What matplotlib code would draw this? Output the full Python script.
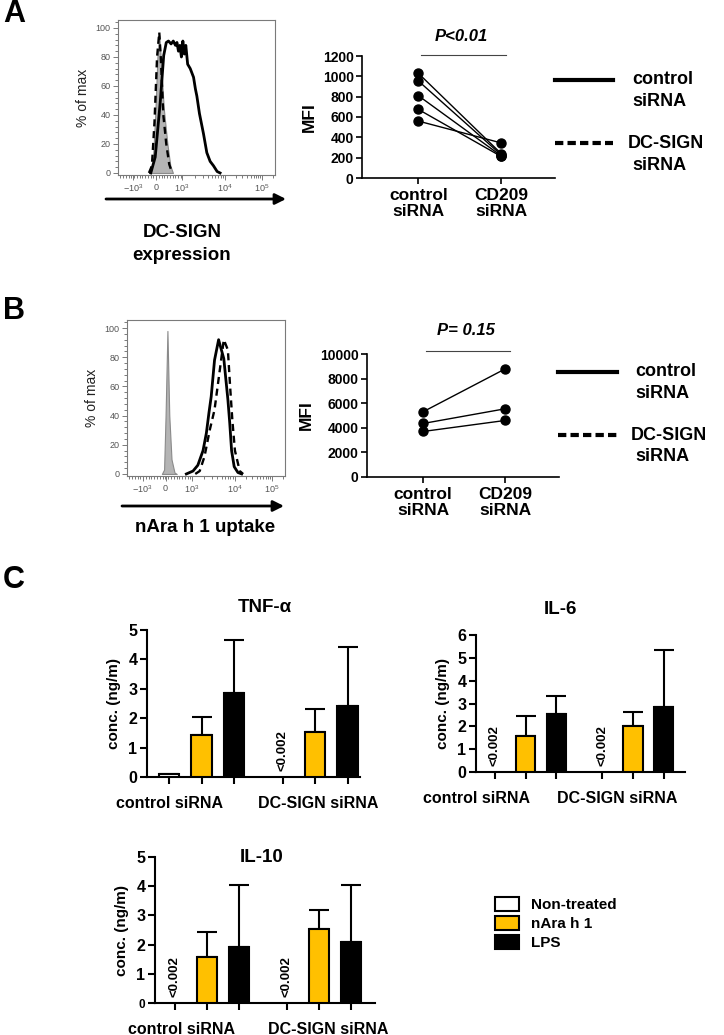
import numpy as np
import matplotlib
matplotlib.use("Agg")
import matplotlib.pyplot as plt
from matplotlib.patches import Patch
from matplotlib.ticker import AutoMinorLocator
from matplotlib.transforms import ScaledTranslation

plt.rcParams['font.family'] = ['Liberation Sans', 'DejaVu Sans']
plt.rcParams['mathtext.default'] = 'regular'

W, H = 724, 1035

# ---------------- data ----------------
# flow histograms: x in display units of the biexponential axis
hist_tick_pos = [-0.62, 0.0, 0.70, 1.86, 2.86]
hist_tick_lbl = [r'$-10^3$', '0', r'$10^3$', r'$10^4$', r'$10^5$']

# A - DC-SIGN expression
a_iso_x = [-0.18, -0.1, -0.03, 0.03, 0.08, 0.13, 0.2, 0.3, 0.38, 0.45]
a_iso_y = [0, 5, 40, 80, 95, 75, 45, 20, 5, 0]
a_dc_x = [-0.2, -0.12, -0.05, 0.02, 0.08, 0.12, 0.19, 0.27, 0.35, 0.43]
a_dc_y = [0, 5, 35, 80, 97, 80, 40, 20, 6, 0]
a_ctrl_x = [-0.15, -0.03, 0.11, 0.2, 0.27, 0.33, 0.4, 0.46, 0.52, 0.56, 0.6,
            0.64, 0.68, 0.72, 0.76, 0.8, 0.85, 0.92, 1.01, 1.06, 1.1, 1.17,
            1.28, 1.37, 1.46, 1.55, 1.65, 1.73]
a_ctrl_y = [0, 11, 50, 81, 90, 91, 89, 91, 88, 90, 84, 88, 80, 91, 82, 88,
            75, 72, 66, 58, 53, 41, 27, 14, 8, 5, 1, 0]

# B - nAra h 1 uptake
b_iso_x = [-0.1, -0.04, 0.0, 0.05, 0.1, 0.16, 0.24, 0.3]
b_iso_y = [0, 3, 40, 98, 40, 10, 1, 0]
b_dc_x = [0.8, 0.92, 1.05, 1.19, 1.32, 1.44, 1.57, 1.68, 1.74, 1.8, 1.87, 2.0, 2.09]
b_dc_y = [0, 2, 12, 30, 44, 67, 92, 85, 60, 37, 16, 2, 0]
b_ctrl_x = [0.56, 0.74, 0.87, 1.01, 1.1, 1.17, 1.23, 1.32, 1.43, 1.57, 1.68,
            1.73, 1.78, 1.85, 1.95, 2.05]
b_ctrl_y = [0, 2, 6, 16, 28, 42, 53, 78, 92, 79, 51, 35, 16, 5, 1, 0]

# MFI paired plots
mfi_cats = ['control\nsiRNA', 'CD209\nsiRNA']
mfiA_ctrl = [1030, 955, 810, 675, 560]
mfiA_cd209 = [240, 228, 218, 212, 345]
mfiB_ctrl = [5300, 4350, 3700]
mfiB_cd209 = [8800, 5550, 4600]

# C - cytokines (ng/ml); NaN = below detection (<0.002)
treatments = ['Non-treated', 'nAra h 1', 'LPS']
treat_colors = ['white', '#FFC000', 'black']
groups = ['control siRNA', 'DC-SIGN siRNA']
tnf_mean = [0.10, 1.43, 2.86, np.nan, 1.53, 2.42]
tnf_err = [np.nan, 0.61, 1.80, np.nan, 0.78, 2.00]
il6_mean = [np.nan, 1.57, 2.53, np.nan, 2.01, 2.84]
il6_err = [np.nan, 0.88, 0.79, np.nan, 0.61, 2.49]
il10_mean = [np.nan, 1.58, 1.93, np.nan, 2.53, 2.10]
il10_err = [np.nan, 0.85, 2.11, np.nan, 0.67, 1.94]

bar_pos = [0, 1, 2, 3.5, 4.5, 5.5]

# ---------------- figure ----------------
fig = plt.figure(figsize=(W / 100, H / 100), dpi=100)


def px_axes(l, t, r, b):
    return fig.add_axes([l / W, 1 - b / H, (r - l) / W, (b - t) / H])


def fpx(x, y):
    return (x / W, 1 - y / H)


def ftext(x, y, s, **kw):
    kw.setdefault('ha', 'center')
    kw.setdefault('va', 'center')
    fig.text(x / W, 1 - y / H, s, **kw)


def bold_ticks(ax):
    for lbl in ax.get_xticklabels() + ax.get_yticklabels():
        lbl.set_fontweight('bold')


hist_minor = list(np.arange(-0.98, 0.68, 0.075))
hist_minor += [0.70 + np.log10(k) * 1.16 for k in range(2, 10)]
hist_minor += [1.86 + np.log10(k) * 1.0 for k in range(2, 10)]
hist_minor += [2.86 + np.log10(k) * 1.0 for k in range(2, 3)]


def histogram(ax, iso_x, iso_y, dc_x, dc_y, c_x, c_y):
    ax.fill_between(iso_x, iso_y, facecolor='#b4b4b4', edgecolor='#8a8a8a', lw=0.8)
    ax.plot(dc_x, dc_y, color='k', lw=1.7, ls=(0, (3, 2)))
    ax.plot(c_x, c_y, color='k', lw=2.0)
    ax.set_xlim(-1.04, 3.22)
    ax.set_ylim(-1.4, 105.5)
    ax.set_xticks(hist_tick_pos)
    ax.set_xticklabels(hist_tick_lbl)
    ax.set_xticks(hist_minor, minor=True)
    ax.set_yticks(range(0, 101, 20))
    ax.yaxis.set_minor_locator(AutoMinorLocator(5))
    for s in ax.spines.values():
        s.set_color('#7a7a7a')
        s.set_linewidth(0.8)
    ax.tick_params(which='both', colors='#7a7a7a', labelcolor='#555555',
                   labelsize=6.5, width=0.7)
    ax.tick_params(which='major', length=3.5, pad=2)
    ax.tick_params(which='minor', length=2)
    ax.set_ylabel('% of max', fontsize=10, color='#222222', labelpad=4)


def mfi_plot(ax, ctrl, cd209, yticks, ptxt, p_y, bar_y):
    for a, b in zip(ctrl, cd209):
        ax.plot([0, 1], [a, b], color='k', lw=1.0, marker='o', ms=6.5)
    ax.set_xlim(-0.68, 1.65)
    ax.set_ylim(0, yticks[-1])
    ax.set_yticks(yticks)
    ax.set_xticks([0, 1])
    ax.set_xticklabels(mfi_cats, fontsize=12.5, linespacing=1.1)
    for lbl in ax.get_xticklabels():
        lbl.set_transform(lbl.get_transform() +
                          ScaledTranslation(-8 / 72, 0, fig.dpi_scale_trans))
    ax.spines[['top', 'right']].set_visible(False)
    for s in ['left', 'bottom']:
        ax.spines[s].set_linewidth(1.2)
    ax.tick_params(axis='y', labelsize=10, length=4, width=1.2, pad=2)
    ax.tick_params(axis='x', length=4, width=1.2, pad=3)
    ax.set_ylabel('MFI', fontsize=12.5, fontweight='bold', labelpad=4)
    bold_ticks(ax)
    ax.plot([0.03, 1.06], [bar_y, bar_y], color='#444444', lw=0.8, clip_on=False)
    ax.text(0.52, p_y, ptxt, ha='center', va='center', fontsize=12,
            fontweight='bold', style='italic')


def line_legend(y_solid, y_dash, x0, x1, xt):
    fig.add_artist(plt.Line2D([x0 / W, x1 / W], [1 - y_solid / H] * 2,
                              color='k', lw=3, transform=fig.transFigure))
    fig.add_artist(plt.Line2D([x0 / W, x1 / W], [1 - y_dash / H] * 2,
                              color='k', lw=3, ls=(0, (2, 1)),
                              transform=fig.transFigure))
    kw = dict(ha='left', fontsize=13, fontweight='bold')
    ftext(xt + 4, y_solid, 'control', **kw)
    ftext(xt + 4, y_solid + 22, 'siRNA', **kw)
    ftext(xt, y_dash, 'DC-SIGN', **kw)
    ftext(xt + 4, y_dash + 22, 'siRNA', **kw)


def bar_panel(ax, means, errs, ymax, title, title_xy, grp_x):
    ax.bar(bar_pos, means, width=0.63, color=treat_colors * 2,
           edgecolor='k', lw=1.5, zorder=3)
    ax.errorbar(bar_pos, means, yerr=[np.zeros(len(errs)), errs], fmt='none',
                ecolor='k', elinewidth=1.5, capsize=7, capthick=1.5, zorder=2)
    for x, m in zip(bar_pos, means):
        if np.isnan(m):
            ax.annotate('<0.002', (x, 0), xytext=(0, 4), textcoords='offset points',
                        rotation=90, ha='center', va='bottom', fontsize=9.5,
                        fontweight='bold')
    ax.set_ylim(0, ymax)
    ax.set_yticks(range(0, ymax + 1))
    ax.set_xticks(bar_pos)
    ax.set_xticklabels([])
    ax.spines[['top', 'right']].set_visible(False)
    for s in ['left', 'bottom']:
        ax.spines[s].set_linewidth(1.5)
    ax.tick_params(axis='y', labelsize=11.5, length=5, width=1.5, pad=2)
    ax.tick_params(axis='x', length=5, width=1.5)
    ax.set_ylabel('conc. (ng/m)', fontsize=11, fontweight='bold', labelpad=5)
    bold_ticks(ax)
    for gx, g in zip(grp_x, groups):
        ax.annotate(g, (gx, 0), xycoords=ax.get_xaxis_transform(),
                    xytext=(0, -19), textcoords='offset points', ha='center',
                    va='center', fontsize=11.5, fontweight='bold',
                    annotation_clip=False)
    ftext(title_xy[0], title_xy[1], title, fontsize=13.5, fontweight='bold')


# panel letters
ftext(14, 14, 'A', fontsize=22, fontweight='bold')
ftext(14, 311, 'B', fontsize=22, fontweight='bold')
ftext(14, 580, 'C', fontsize=22, fontweight='bold')

# ---- A ----
axA = px_axes(118, 20, 275, 175)
histogram(axA, a_iso_x, a_iso_y, a_dc_x, a_dc_y, a_ctrl_x, a_ctrl_y)
axA.annotate('', xy=fpx(286, 199), xytext=fpx(106, 199), xycoords='figure fraction',
             arrowprops=dict(arrowstyle='-|>', lw=2, color='k', mutation_scale=16,
                             shrinkA=0, shrinkB=0))
ftext(182, 233, 'DC-SIGN', fontsize=13.5, fontweight='bold')
ftext(182, 255, 'expression', fontsize=13.5, fontweight='bold')

axA2 = px_axes(362, 56, 555, 178)
mfi_plot(axA2, mfiA_ctrl, mfiA_cd209, list(range(0, 1201, 200)), 'P<0.01', 1387, 1210)
line_legend(80, 143, 555, 613, 628)

# ---- B ----
axB = px_axes(127, 320, 285, 476)
histogram(axB, b_iso_x, b_iso_y, b_dc_x, b_dc_y, b_ctrl_x, b_ctrl_y)
axB.annotate('', xy=fpx(284, 506), xytext=fpx(122, 506), xycoords='figure fraction',
             arrowprops=dict(arrowstyle='-|>', lw=2, color='k', mutation_scale=16,
                             shrinkA=0, shrinkB=0))
ftext(205, 528, 'nAra h 1 uptake', fontsize=13.5, fontweight='bold')

axB2 = px_axes(367, 354, 559, 477)
mfi_plot(axB2, mfiB_ctrl, mfiB_cd209, list(range(0, 10001, 2000)), 'P= 0.15', 11900, 10220)
line_legend(372, 435, 558, 617, 631)

# ---- C ----
axT = px_axes(147, 630, 360, 777)
axT.set_xlim(-0.68, 5.88)
bar_panel(axT, tnf_mean, tnf_err, 5, 'TNF-α', (265, 608), [0.0, 4.6])

axI6 = px_axes(476, 635, 685, 772)
axI6.set_xlim(-0.62, 6.2)
bar_panel(axI6, il6_mean, il6_err, 6, 'IL-6', (560, 610), [-0.6, 4.0])

axI10 = px_axes(155, 857, 375, 1003)
axI10.set_xlim(-0.62, 6.25)
bar_panel(axI10, il10_mean, il10_err, 5, 'IL-10', (262, 858), [0.2, 4.8])
axI10.get_yticklabels()[0].set_fontsize(8.5)

handles = [Patch(facecolor=c, edgecolor='k', lw=1.5) for c in treat_colors]
fig.legend(handles, treatments, loc='upper left', bbox_to_anchor=fpx(481, 883),
           frameon=False, handlelength=1.6, handleheight=1.1, labelspacing=0.22,
           handletextpad=0.8, prop={'size': 11, 'weight': 'bold'})

fig.savefig('out.png', dpi=100)
